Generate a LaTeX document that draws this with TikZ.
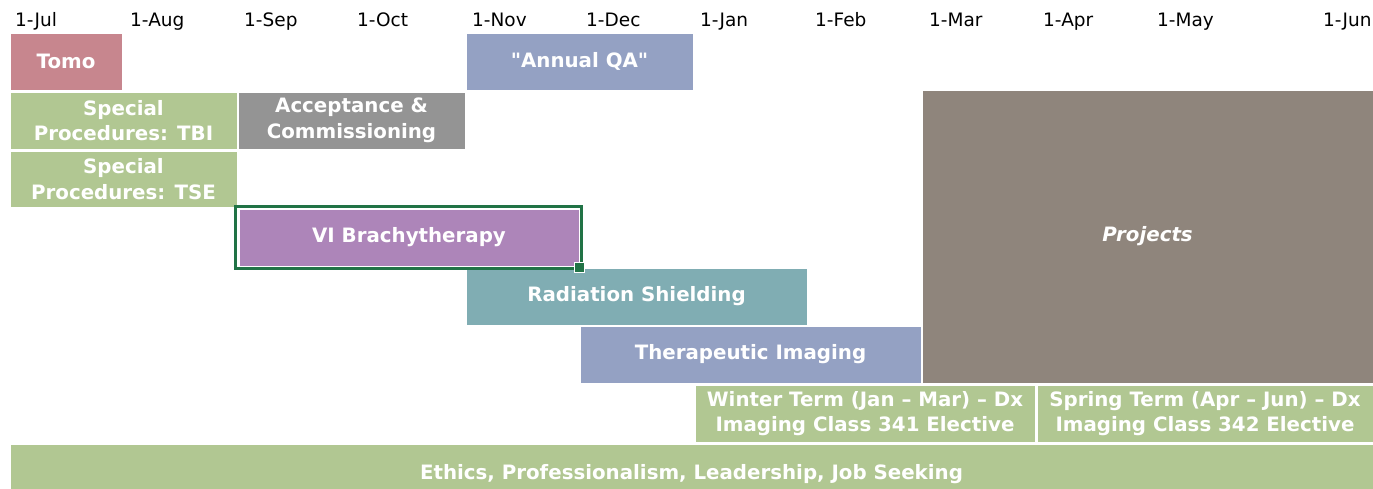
\documentclass[tikz,border=0pt]{standalone}
\usepackage{fontspec}
\setmainfont{DejaVu Sans}[Ligatures=TeXOff]
\definecolor{tomoc}{HTML}{C7868E}
\definecolor{qac}{HTML}{94A1C3}
\definecolor{greenc}{HTML}{B1C792}
\definecolor{greyc}{HTML}{949494}
\definecolor{purplec}{HTML}{AD85B9}
\definecolor{tealc}{HTML}{80ADB3}
\definecolor{projc}{HTML}{8F857C}
\definecolor{selc}{HTML}{217346}
\tikzset{
  bar/.style={draw=white, line width=1pt, inner sep=0pt, text=white,
    font=\fontsize{19.8}{25.5}\selectfont\bfseries, align=center},
  month/.style={anchor=base west, inner sep=0pt, text=black,
    font=\fontsize{18.5}{20}\selectfont}
}
\begin{document}
\begin{tikzpicture}[x=1pt,y=-1pt]
\clip (0,0) rectangle (1373,488);
\fill[white] (0,0) rectangle (1373,488);
% month labels
\node[month] (m1) at (15,26) {1-Jul};
\node[month] (m2) at (130,26) {1-Aug};
\node[month] (m3) at (244,26) {1-Sep};
\node[month] (m4) at (357,26) {1-Oct};
\node[month] (m5) at (472,26) {1-Nov};
\node[month] (m6) at (586,26) {1-Dec};
\node[month] (m7) at (700,26) {1-Jan};
\node[month] (m8) at (815,26) {1-Feb};
\node[month] (m9) at (929,26) {1-Mar};
\node[month] (m10) at (1043,26) {1-Apr};
\node[month] (m11) at (1157,26) {1-May};
\node[month] (m12) at (1323,26) {1-Jun};
% bars
\node[bar, fill=tomoc, minimum width=112pt, minimum height=57pt] (tomo) at (66,61.5) {Tomo};
\node[bar, fill=qac, minimum width=227pt, minimum height=57pt] (qa) at (579.5,61.5) {"Annual QA"};
\node[bar, fill=greenc, minimum width=227pt, minimum height=57pt] (tbi) at (123.5,120.5) {Special\\Procedures: TBI};
\node[bar, fill=greyc, minimum width=227pt, minimum height=57pt] (acc) at (351.5,120.5) {Acceptance \&\\Commissioning};
\node[bar, fill=greenc, minimum width=227pt, minimum height=56pt] (tse) at (123.5,179) {Special\\Procedures: TSE};
\node[bar, fill=purplec, minimum width=340pt, minimum height=57pt] (brachy) at (409,237.5) {VI Brachytherapy};
\node[bar, fill=tealc, minimum width=341pt, minimum height=57pt] (rad) at (636.5,296.5) {Radiation Shielding};
\draw[selc, line width=3pt] (235.5,206.5) rectangle (581.5,268.5);
\node[draw=white, line width=1pt, fill=selc, minimum size=10pt, inner sep=0pt] (handle) at (579.5,267.5) {};
\node[bar, fill=qac, minimum width=341pt, minimum height=57pt] (ther) at (750.5,354.5) {Therapeutic Imaging};
\node[bar, fill=projc, minimum width=451pt, minimum height=293pt, font=\fontsize{19.8}{25}\selectfont\bfseries\itshape] (proj) at (1147.5,236.5) {Projects};
\node[bar, fill=greenc, minimum width=340pt, minimum height=57pt] (winter) at (865,413.5) {Winter Term (Jan – Mar) – Dx\\Imaging Class 341 Elective};
\node[bar, fill=greenc, minimum width=336pt, minimum height=57pt] (spring) at (1205,413.5) {Spring Term (Apr – Jun) – Dx\\Imaging Class 342 Elective};
\node[bar, fill=greenc, minimum width=1363pt, minimum height=60pt] (ethics) at (691.5,474) {Ethics, Professionalism, Leadership, Job Seeking};
\end{tikzpicture}
\end{document}
